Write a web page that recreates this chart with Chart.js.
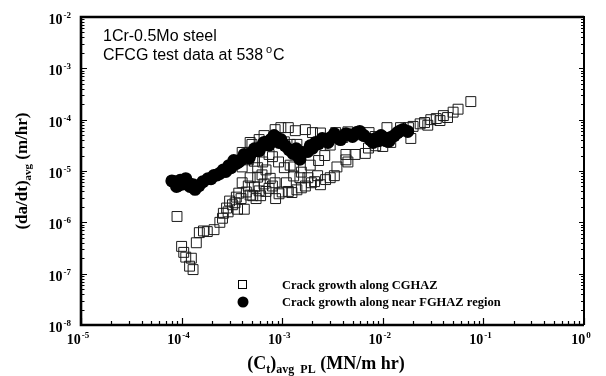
<!DOCTYPE html>
<html>
<head>
<meta charset="utf-8">
<script src="https://cdn.jsdelivr.net/npm/chart.js@4.4.0/dist/chart.umd.min.js"></script>
<style>
  html, body { margin: 0; padding: 0; background: #fff; }
  #wrap { width: 606px; height: 376px; }
</style>
</head>
<body>
<div id="wrap"><canvas id="crackChart" width="606" height="376"></canvas></div>
<script>
/* CGHAZ specimens: Ct (MN/m hr) and crack growth rate (m/hr) */
const cghazCt = [
    9.0e-5, 1.0e-4, 1.05e-4, 1.1e-4, 1.25e-4, 1.2e-4, 1.3e-4, 1.4e-4, 1.5e-4, 1.65e-4, 1.8e-4, 2.1e-4,
    2.4e-4, 2.6e-4, 2.8e-4, 3.0e-4, 3.2e-4, 3.5e-4, 3.7e-4, 3.9e-4, 4.2e-4, 4.4e-4, 4.6e-4, 4.0e-4,
    4.8e-4, 5.1e-4, 5.5e-4, 5.9e-4, 5.7e-4, 6.3e-4, 6.6e-4, 6.9e-4, 7.4e-4, 8.0e-4, 8.6e-4, 9.3e-4,
    1.0e-3, 1.15e-3, 1.25e-3, 1.4e-3, 1.55e-3, 1.7e-3, 1.95e-3, 2.1e-3, 2.4e-3, 2.7e-3, 3.0e-3, 3.3e-3, 3.5e-3,
    2.55e-4, 2.9e-4, 3.4e-4, 3.6e-4, 4.8e-4, 5.3e-4, 6.1e-4, 6.9e-4, 7.6e-4, 8.5e-4, 1.1e-3, 1.3e-3,
    1.5e-3, 1.8e-3, 2.25e-3,
    4.0e-4, 4.6e-4, 4.0e-4, 5.0e-4, 5.3e-4, 5.9e-4, 6.6e-4, 7.4e-4, 4.8e-4, 8.5e-4, 9.7e-4, 1.15e-3, 1.35e-3,
    9.2e-4, 1.05e-3, 1.05e-3, 1.2e-3, 1.3e-3, 1.4e-3, 1.55e-3, 1.7e-3, 1.9e-3, 2.0e-3, 2.3e-3, 2.4e-3,
    2.65e-3, 3.0e-3, 3.4e-3, 4.0e-3, 4.3e-3, 4.5e-3, 4.5e-3, 6.4e-4, 5.7e-4, 8.0e-4, 1.2e-3,
    4.3e-3, 5.3e-3, 5.4e-3, 6.7e-3, 7.2e-3, 7.3e-3, 8.4e-3, 8.5e-3, 1.0e-2, 1.1e-2, 1.2e-2, 1.5e-2,
    1.8e-2, 1.9e-2, 2.0e-2, 2.35e-2, 2.6e-2, 2.8e-2, 3.0e-2, 3.4e-2, 3.7e-2, 4.0e-2, 4.4e-2, 5.0e-2,
    5.6e-2, 7.5e-2
];
const cghazRate = [
    1.3e-6, 3.4e-7, 2.6e-7, 2.1e-7, 2.0e-7, 1.4e-7, 1.2e-7, 4.0e-7, 6.3e-7, 6.8e-7, 6.6e-7, 7.2e-7,
    1.0e-6, 1.5e-6, 1.9e-6, 2.6e-6, 2.2e-6, 3.1e-6, 3.7e-6, 2.9e-6, 1.8e-6, 3.9e-6, 5.1e-6, 5.9e-6,
    7.4e-6, 3.3e-6, 2.9e-6, 4.1e-6, 7.6e-6, 8.4e-6, 5.6e-6, 1.05e-5, 4.6e-6, 5.1e-6, 2.9e-6, 3.6e-6,
    3.9e-6, 4.0e-6, 3.8e-6, 4.3e-6, 4.7e-6, 5.1e-6, 5.9e-6, 6.2e-6, 5.4e-6, 6.8e-6, 7.4e-6, 8.1e-6, 1.2e-5,
    1.2e-6, 1.6e-6, 2.4e-6, 1.8e-6, 3.4e-6, 4.9e-6, 3.3e-6, 4.0e-6, 7.2e-6, 5.9e-6, 5.9e-6, 8.0e-6,
    7.4e-6, 7.4e-6, 8.1e-6,
    1.2e-5, 1.65e-5, 2.3e-5, 3.3e-5, 1.55e-5, 4.1e-5, 4.9e-5, 2.1e-5, 3.6e-5, 6.4e-5, 7.0e-5, 7.0e-5, 6.1e-5,
    1.5e-5, 1.16e-5, 3.7e-5, 3.3e-5, 1.2e-5, 3.3e-5, 9.5e-6, 6.4e-5, 1.3e-5, 5.6e-5, 1.6e-5, 5.5e-5,
    2.0e-5, 3.2e-5, 5.6e-5, 4.5e-5, 2.1e-5, 1.5e-5, 5.8e-5, 1.5e-5, 1.16e-5, 1.9e-5, 1.3e-5,
    1.65e-5, 2.1e-5, 5.1e-5, 2.2e-5, 2.8e-5, 5.6e-5, 4.7e-5, 3.1e-5, 3.0e-5, 7.0e-5, 3.6e-5, 7.0e-5,
    7.0e-5, 4.3e-5, 7.4e-5, 8.3e-5, 8.8e-5, 7.8e-5, 1.0e-4, 1.05e-4, 9.6e-5, 1.2e-4, 1.1e-4, 1.4e-4,
    1.6e-4, 2.25e-4
];

/* near-FGHAZ specimen */
const fghazCt = [
    8.0e-5, 8.6e-5, 8.9e-5, 9.2e-5, 9.7e-5, 1.03e-4, 1.1e-4, 1.17e-4, 1.21e-4, 1.3e-4, 1.36e-4, 1.49e-4,
    1.63e-4, 1.83e-4, 1.96e-4, 2.1e-4, 2.25e-4, 2.4e-4, 2.6e-4, 2.75e-4, 2.95e-4, 3.1e-4, 3.3e-4, 3.5e-4,
    3.7e-4, 3.9e-4, 4.2e-4, 4.4e-4, 4.7e-4, 4.9e-4, 5.3e-4, 5.5e-4, 5.9e-4, 6.2e-4, 6.6e-4, 6.9e-4,
    7.4e-4, 7.7e-4, 8.3e-4, 8.7e-4, 9.3e-4, 9.7e-4, 1.07e-3, 1.17e-3, 1.28e-3, 1.38e-3, 1.43e-3, 1.5e-3,
    1.6e-3, 1.8e-3, 1.9e-3, 2.0e-3, 2.15e-3, 2.3e-3, 2.5e-3, 2.65e-3, 2.85e-3, 3.05e-3, 3.3e-3, 3.5e-3,
    3.8e-3, 4.0e-3, 4.3e-3, 4.7e-3, 5.0e-3, 5.5e-3, 5.9e-3, 6.5e-3, 7.5e-3, 8.0e-3, 8.5e-3, 9.1e-3,
    9.6e-3, 1.0e-2, 1.07e-2, 1.15e-2, 1.2e-2, 1.3e-2, 1.4e-2, 1.5e-2, 1.6e-2, 1.77e-2
];
const fghazRate = [
    6.4e-6, 6.2e-6, 5.0e-6, 5.2e-6, 6.6e-6, 5.6e-6, 7.1e-6, 5.8e-6, 5.0e-6, 5.4e-6, 4.4e-6, 5.2e-6,
    6.2e-6, 7.1e-6, 7.1e-6, 8.2e-6, 8.4e-6, 9.0e-6, 1.05e-5, 9.8e-6, 1.27e-5, 1.16e-5, 1.6e-5, 1.4e-5,
    1.5e-5, 1.65e-5, 2.1e-5, 1.9e-5, 1.8e-5, 2.2e-5, 2.7e-5, 2.5e-5, 2.5e-5, 3.0e-5, 3.6e-5, 3.6e-5,
    3.2e-5, 4.1e-5, 4.9e-5, 4.5e-5, 3.6e-5, 4.1e-5, 3.1e-5, 2.6e-5, 2.2e-5, 2.7e-5, 2.0e-5, 1.7e-5,
    2.3e-5, 2.4e-5, 3.1e-5, 2.8e-5, 3.6e-5, 3.4e-5, 4.3e-5, 4.1e-5, 3.6e-5, 4.5e-5, 5.3e-5, 4.5e-5,
    4.1e-5, 4.7e-5, 5.3e-5, 5.1e-5, 4.7e-5, 5.6e-5, 5.9e-5, 4.9e-5, 4.1e-5, 3.6e-5, 4.3e-5, 3.9e-5,
    4.9e-5, 4.6e-5, 3.9e-5, 3.8e-5, 4.5e-5, 4.9e-5, 5.6e-5, 6.1e-5, 6.4e-5, 5.9e-5
];

/* decade exponents for the tick labels */
const xDecades = [-5, -4, -3, -2, -1, 0];
const yDecades = [-2, -3, -4, -5, -6, -7, -8];

const legendLabels = ["Crack growth along CGHAZ", "Crack growth along near FGHAZ region"];
const noteLines = ["1Cr-0.5Mo steel", "CFCG test data at 538"];

const SERIF = '"Liberation Serif", "Times New Roman", serif';
const SANS = '"Liberation Sans", Arial, sans-serif';

function toPoints(xs, ys) {
    return xs.map((v, i) => ({ x: v, y: ys[i] }));
}

// "10" with a raised exponent; align is 'right' or 'center'
function drawPower(ctx, exp, x, baseline, align) {
    const base = "10";
    const sup = String(exp);
    ctx.font = "bold 14px " + SERIF;
    const wb = ctx.measureText(base).width;
    ctx.font = "bold 9px " + SERIF;
    const ws = ctx.measureText(sup).width;
    const total = wb + ws + 1;
    let x0 = align === "right" ? x - total : x - total / 2;
    ctx.textAlign = "left";
    ctx.textBaseline = "alphabetic";
    ctx.font = "bold 14px " + SERIF;
    ctx.fillText(base, x0, baseline);
    ctx.font = "bold 9px " + SERIF;
    ctx.fillText(sup, x0 + wb + 1, baseline - 6);
}

// a run of [text, size, dy] pieces drawn one after another
function drawRun(ctx, parts, x, baseline, center) {
    let w = 0;
    parts.forEach(p => {
        ctx.font = "bold " + p[1] + "px " + SERIF;
        w += ctx.measureText(p[0]).width;
    });
    let cx = center ? x - w / 2 : x;
    ctx.textAlign = "left";
    ctx.textBaseline = "alphabetic";
    parts.forEach(p => {
        ctx.font = "bold " + p[1] + "px " + SERIF;
        ctx.fillText(p[0], cx, baseline + p[2]);
        cx += ctx.measureText(p[0]).width;
    });
}

const frameAndLabels = {
    id: "frameAndLabels",
    afterDraw(chart) {
        const { ctx, chartArea: a, scales: { x, y } } = chart;
        ctx.save();
        ctx.strokeStyle = "#000";
        ctx.fillStyle = "#000";

        // inward tick marks: bottom, left and right
        ctx.lineWidth = 1.2;
        ctx.beginPath();
        for (let d = xDecades[0]; d <= xDecades[xDecades.length - 1]; d++) {
            for (let m = 1; m <= 9; m++) {
                if (d === 0 && m > 1) break;
                const px = Math.round(x.getPixelForValue(m * Math.pow(10, d))) + 0.5;
                const len = m === 1 ? 7 : 4;
                ctx.moveTo(px, a.bottom);
                ctx.lineTo(px, a.bottom - len);
            }
        }
        for (let d = yDecades[yDecades.length - 1]; d <= yDecades[0]; d++) {
            for (let m = 1; m <= 9; m++) {
                if (d === yDecades[0] && m > 1) break;
                const py = Math.round(y.getPixelForValue(m * Math.pow(10, d))) + 0.5;
                const len = m === 1 ? 6 : 3.5;
                ctx.moveTo(a.left, py);
                ctx.lineTo(a.left + len, py);
                ctx.moveTo(a.right, py);
                ctx.lineTo(a.right - (m === 1 ? 5 : 3), py);
            }
        }
        ctx.stroke();

        // plot frame
        ctx.lineWidth = 2.6;
        ctx.beginPath();
        ctx.moveTo(a.right, a.top);
        ctx.lineTo(a.left, a.top);
        ctx.lineTo(a.left, a.bottom);
        ctx.lineTo(a.right, a.bottom);
        ctx.stroke();
        ctx.lineWidth = 2;
        ctx.beginPath();
        ctx.moveTo(a.right, a.top - 1);
        ctx.lineTo(a.right, a.bottom);
        ctx.stroke();

        // decade labels
        yDecades.forEach(e => {
            drawPower(ctx, e, a.left - 10, y.getPixelForValue(Math.pow(10, e)) + 7, "right");
        });
        xDecades.forEach(e => {
            drawPower(ctx, e, x.getPixelForValue(Math.pow(10, e)) - 3, a.bottom + 19, "center");
        });

        // axis titles
        drawRun(ctx, [["(C", 18, 0], ["t", 12, 4], [")", 18, 0], ["avg  PL", 12, 4], [" (MN/m hr)", 18, 0]],
            326, a.bottom + 44, true);
        ctx.save();
        ctx.translate(27, (a.top + a.bottom) / 2);
        ctx.rotate(-Math.PI / 2);
        drawRun(ctx, [["(da/dt)", 17, 0], ["avg", 11, 4], [" (m/hr)", 17, 0]], 0, 0, true);
        ctx.restore();

        // material / test note
        ctx.font = "16px " + SANS;
        ctx.textAlign = "left";
        ctx.textBaseline = "alphabetic";
        ctx.fillText(noteLines[0], 103, 41);
        ctx.fillText(noteLines[1], 103, 60);
        const w1 = ctx.measureText(noteLines[1]).width;
        ctx.font = "11px " + SANS;
        ctx.fillText("o", 103 + w1 + 3, 53);
        ctx.font = "16px " + SANS;
        ctx.fillText("C", 103 + w1 + 10, 60);

        // legend
        ctx.lineWidth = 1;
        ctx.strokeRect(238.5, 280.5, 8, 8);
        ctx.beginPath();
        ctx.arc(243, 302, 5.5, 0, Math.PI * 2);
        ctx.fill();
        ctx.font = "bold 12.5px " + SERIF;
        ctx.fillText(legendLabels[0], 282, 289);
        ctx.fillText(legendLabels[1], 282, 306);

        ctx.restore();
    }
};

new Chart(document.getElementById("crackChart"), {
    type: "scatter",
    data: {
        datasets: [
            {
                label: legendLabels[1],
                data: toPoints(fghazCt, fghazRate),
                pointStyle: "circle",
                pointRadius: 6.5,
                backgroundColor: "#000",
                borderColor: "#000",
                borderWidth: 0
            },
            {
                label: legendLabels[0],
                data: toPoints(cghazCt, cghazRate),
                pointStyle: "rect",
                pointRadius: 7,
                backgroundColor: "rgba(0,0,0,0)",
                borderColor: "#1a1a1a",
                borderWidth: 1
            }
        ]
    },
    plugins: [frameAndLabels],
    options: {
        responsive: false,
        animation: false,
        layout: { padding: { left: 81, right: 22, top: 17, bottom: 51 } },
        plugins: {
            legend: { display: false },
            tooltip: { enabled: false }
        },
        scales: {
            x: { type: "logarithmic", display: false, min: 1e-5, max: 1 },
            y: { type: "logarithmic", display: false, min: 1e-8, max: 1e-2 }
        }
    }
});
</script>
</body>
</html>
